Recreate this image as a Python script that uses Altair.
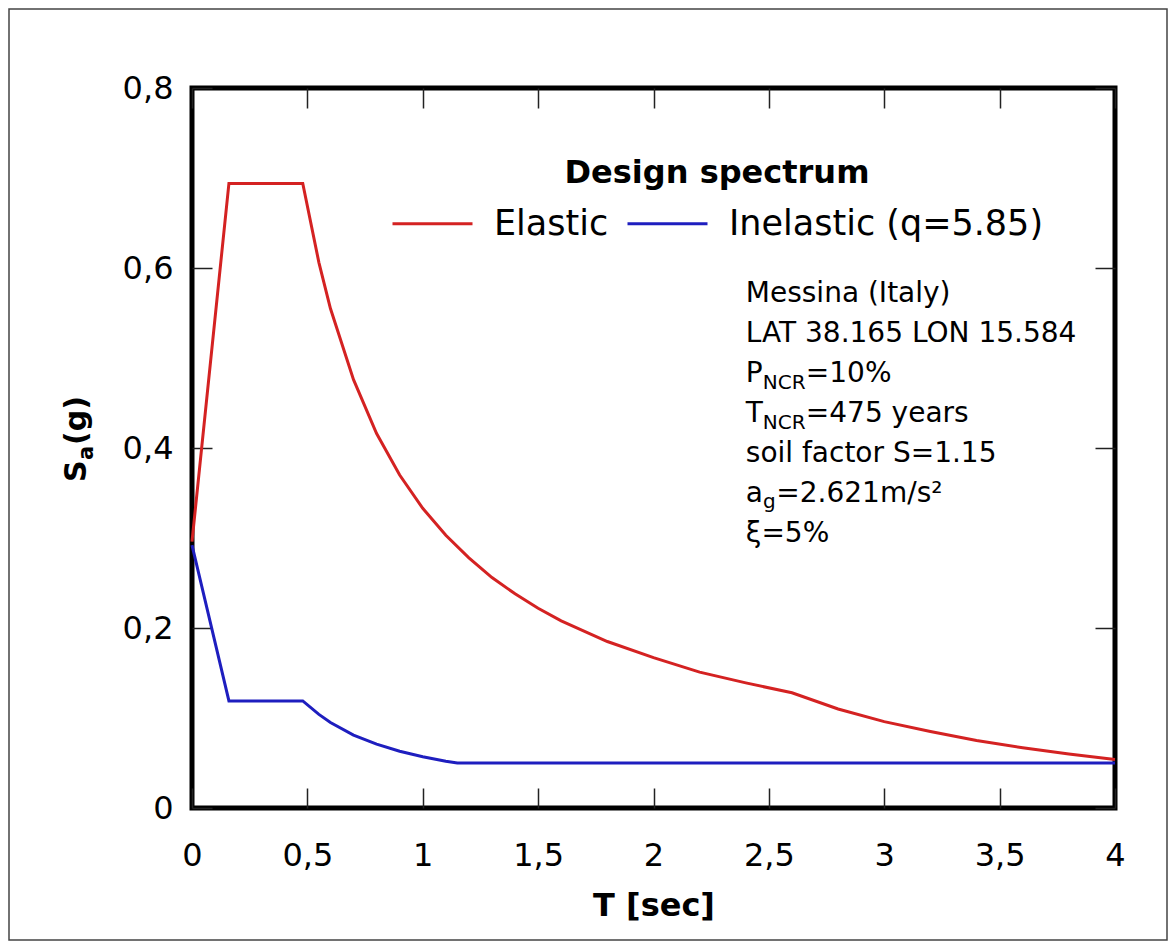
import altair as alt
import pandas as pd

# ---------------- data ----------------
T_elastic = [0, 0.16, 0.48, 0.55, 0.6, 0.7, 0.8, 0.9, 1.0, 1.1, 1.2, 1.3, 1.4,
             1.5, 1.6, 1.8, 2.0, 2.2, 2.4, 2.6, 2.8, 3.0, 3.2, 3.4, 3.6, 3.8, 4.0]
Sa_elastic = [0.296, 0.694, 0.694, 0.606, 0.555, 0.476, 0.416, 0.370, 0.333,
              0.303, 0.278, 0.256, 0.238, 0.222, 0.208, 0.185, 0.167, 0.151,
              0.139, 0.128, 0.110, 0.096, 0.085, 0.075, 0.067, 0.060, 0.054]

T_inelastic = [0, 0.16, 0.48, 0.55, 0.6, 0.7, 0.8, 0.9, 1.0, 1.1, 1.15, 4.0]
Sa_inelastic = [0.292, 0.119, 0.119, 0.104, 0.095, 0.081, 0.071, 0.063, 0.057,
                0.052, 0.050, 0.050]

series_names = ["Elastic", "Inelastic (q=5.85)"]
series_colors = ["#d42222", "#1e1ebf"]

x_ticks = [0, 0.5, 1, 1.5, 2, 2.5, 3, 3.5, 4]
y_ticks = [0, 0.2, 0.4, 0.6, 0.8]

legend_title = "Design spectrum"
x_title = "T [sec]"
y_title_parts = ["S", "a", "(g)"]

ann_anchor_T = [2.4]
ann_anchor_Sa = [0.562]
ann_texts = ["Messina (Italy)", "LAT 38.165 LON 15.584",
             "P", "NCR", "=10%",
             "T", "NCR", "=475 years",
             "soil factor S=1.15",
             "a", "g", "=2.621m/s²",
             "ξ=5%"]

# ---------------- tables ----------------
df = pd.DataFrame({
    "T": T_elastic + T_inelastic,
    "Sa": Sa_elastic + Sa_inelastic,
    "series": [series_names[0]] * len(T_elastic) + [series_names[1]] * len(T_inelastic),
})
ann_df = pd.DataFrame({"T": ann_anchor_T, "Sa": ann_anchor_Sa})
one_df = pd.DataFrame({"k": [0]})

FONT = "DejaVu Sans"
xs = alt.Scale(domain=[0, 4], nice=False, zero=False)
ys = alt.Scale(domain=[0, 0.8], nice=False)
label_expr = "replace(format(datum.value, '~g'), '.', ',')"

# ---------------- main lines with labelled axes ----------------
main = alt.Chart(df).mark_line(strokeWidth=3).encode(
    x=alt.X("T:Q", scale=xs, axis=alt.Axis(
        orient="bottom", values=x_ticks, labelExpr=label_expr, labelFont=FONT,
        labelFontSize=32, labelColor="black", labelPadding=32, labelFlush=False,
        ticks=False, tickSize=0, domain=False, grid=False,
        title=x_title, titleFont=FONT, titleFontSize=32, titleFontWeight="bold",
        titleColor="black", titleY=107, titleBaseline="alphabetic")),
    y=alt.Y("Sa:Q", scale=ys, axis=alt.Axis(
        orient="left", values=y_ticks, labelExpr=label_expr, labelFont=FONT,
        labelFontSize=32, labelColor="black", labelPadding=19, labelFlush=False,
        ticks=False, tickSize=0, domain=False, grid=False, title="")),
    color=alt.Color("series:N",
                    scale=alt.Scale(domain=series_names, range=series_colors),
                    legend=alt.Legend(
                        orient="none", legendX=199, legendY=70, direction="horizontal",
                        title=legend_title, titleFont=FONT, titleFontSize=32,
                        titleFontWeight="bold", titleColor="black", titleAnchor="middle",
                        titleLimit=1000, titlePadding=-8,
                        labelFont=FONT, labelFontSize=35, labelColor="black",
                        labelLimit=1000, labelOffset=20, symbolType="stroke",
                        symbolSize=6400, symbolStrokeWidth=3, columnPadding=12,
                        padding=0)),
)

# ---------------- inward tick marks on all four sides ----------------
def tick_axis(orient, vals):
    return alt.Axis(orient=orient, values=vals, offset=-20, tickSize=20,
                    tickWidth=1.5, tickColor="#222222", labels=False,
                    domain=False, grid=False, title="")

ticks_bl = alt.Chart(df).mark_point(opacity=0).encode(
    x=alt.X("T:Q", scale=xs, axis=tick_axis("bottom", x_ticks)),
    y=alt.Y("Sa:Q", scale=ys, axis=tick_axis("left", y_ticks)),
)
ticks_tr = alt.Chart(df).mark_point(opacity=0).encode(
    x=alt.X("T:Q", scale=xs, axis=tick_axis("top", x_ticks)),
    y=alt.Y("Sa:Q", scale=ys, axis=tick_axis("right", y_ticks)),
)

# ---------------- y-axis title with a real subscript ----------------
ytitle_layout = [(0, 0, 30), (22, 7, 21), (37, 0, 30)]  # dx, dy, fontSize
ytitle = []
for txt, (dx, dy, fs) in zip(y_title_parts, ytitle_layout):
    ytitle.append(
        alt.Chart(one_df).mark_text(text=txt, angle=270, align="left",
                                    baseline="alphabetic", dx=dx, dy=dy,
                                    font=FONT, fontSize=fs, fontWeight="bold",
                                    color="black").encode(
            x=alt.value(-106), y=alt.value(394))
    )

# ---------------- annotation block ----------------
LS = 40  # line spacing in px
MAIN_FS = 28
SUB_FS = 20
layout = [  # (dx, dy, fontSize) for each entry in ann_texts
    (0, 0, MAIN_FS), (0, LS, MAIN_FS),
    (0, 2 * LS, MAIN_FS), (17, 2 * LS + 7, SUB_FS), (60, 2 * LS, MAIN_FS),
    (0, 3 * LS, MAIN_FS), (17, 3 * LS + 7, SUB_FS), (60, 3 * LS, MAIN_FS),
    (0, 4 * LS, MAIN_FS),
    (0, 5 * LS, MAIN_FS), (17.2, 5 * LS + 6, SUB_FS), (30.5, 5 * LS, MAIN_FS),
    (0, 6 * LS, MAIN_FS),
]
texts = []
for txt, (dx, dy, fs) in zip(ann_texts, layout):
    texts.append(
        alt.Chart(ann_df).mark_text(text=txt, align="left", baseline="alphabetic",
                                    dx=dx, dy=dy, font=FONT, fontSize=fs,
                                    color="black").encode(
            x=alt.X("T:Q", scale=xs, axis=None),
            y=alt.Y("Sa:Q", scale=ys, axis=None),
        )
    )

# ---------------- outer frame of the figure ----------------
frame = alt.Chart(one_df).mark_rect(fillOpacity=0, stroke="#444444",
                                    strokeWidth=1.5).encode(
    x=alt.value(-183), x2=alt.value(975), y=alt.value(-79), y2=alt.value(852)
)

chart = alt.layer(frame, ticks_bl, ticks_tr, main, *ytitle, *texts).resolve_axis(
    x="independent", y="independent"
).properties(
    width=923, height=720,
    autosize=alt.AutoSizeParams(type="none"),
    padding={"left": 184, "top": 80, "right": 53, "bottom": 133},
    background="white",
).configure_view(stroke="black", strokeWidth=5)

chart.save("out.html", embed_options={"renderer": "svg", "actions": False})
